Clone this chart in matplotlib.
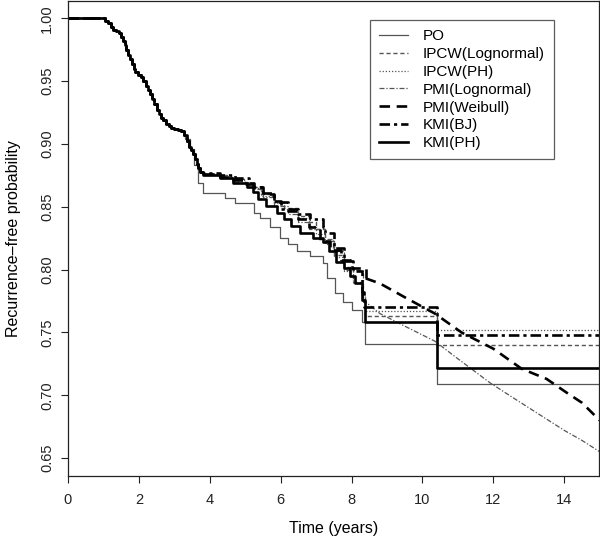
import matplotlib
matplotlib.use("Agg")
import matplotlib.pyplot as plt

plt.rcParams['font.family'] = ['Liberation Sans', 'DejaVu Sans']

# shared early part of all the curves (years, survival)
early_t = [0, 1.0, 1.05, 1.12, 1.2, 1.28, 1.36, 1.44, 1.5, 1.55, 1.6, 1.65, 1.7, 1.75,
           1.8, 1.85, 1.9, 1.97, 2.05, 2.12, 2.19, 2.25, 2.31, 2.37, 2.43, 2.5, 2.56,
           2.62, 2.68, 2.76, 2.84, 2.92, 3.0, 3.1, 3.2, 3.27]
early_s = [1.0, 1.0, 0.998, 0.996, 0.993, 0.991, 0.990, 0.988, 0.985, 0.982, 0.979,
           0.975, 0.971, 0.968, 0.964, 0.960, 0.957, 0.955, 0.953, 0.950, 0.946, 0.943,
           0.940, 0.936, 0.932, 0.927, 0.924, 0.921, 0.919, 0.916, 0.914, 0.913, 0.912,
           0.911, 0.910, 0.907]

# the bend before the 4-5 year plateau, same for the imputation / weighting curves
bend_t = [3.36, 3.42, 3.48, 3.53, 3.58, 3.63, 3.68, 3.72]
bend_s = [0.902, 0.898, 0.895, 0.892, 0.888, 0.884, 0.881, 0.878]

po_t = [3.3, 3.45, 3.55, 3.67, 3.81, 4.43, 4.7, 5.25, 5.41, 5.7, 5.98, 6.2, 6.45,
        6.82, 7.19, 7.3, 7.53, 7.76, 8.0, 8.29, 8.38, 10.42, 15]
po_s = [0.904, 0.896, 0.883, 0.869, 0.861, 0.857, 0.853, 0.845, 0.841, 0.834, 0.825,
        0.820, 0.815, 0.811, 0.805, 0.793, 0.781, 0.774, 0.768, 0.758, 0.741, 0.709, 0.709]

ipcw_ln_t = [3.8, 4.2, 4.6, 5.0, 5.22, 5.45, 5.8, 6.1, 6.5, 6.8, 7.0, 7.25, 7.5, 7.8,
             8.05, 8.3, 8.38, 10.42, 15]
ipcw_ln_s = [0.876, 0.875, 0.872, 0.869, 0.866, 0.860, 0.854, 0.849, 0.843, 0.838,
             0.832, 0.823, 0.812, 0.802, 0.790, 0.777, 0.763, 0.740, 0.740]

ipcw_ph_t = [3.8, 4.25, 4.65, 5.0, 5.22, 5.45, 5.8, 6.1, 6.5, 6.8, 7.0, 7.25, 7.5, 7.8,
             8.05, 8.3, 8.38, 10.42, 15]
ipcw_ph_s = [0.876, 0.874, 0.871, 0.868, 0.865, 0.859, 0.853, 0.848, 0.841, 0.835,
             0.828, 0.820, 0.810, 0.799, 0.789, 0.779, 0.767, 0.752, 0.752]

pmi_ln_t = [3.8, 4.3, 4.7, 5.1, 5.22, 5.5, 5.8, 6.2, 6.5, 6.8, 7.1, 7.47, 7.8, 8.32]
pmi_ln_s = [0.875, 0.873, 0.870, 0.866, 0.864, 0.858, 0.851, 0.844, 0.838, 0.832,
            0.824, 0.815, 0.800, 0.776]
pmi_ln_tail_t = [8.32, 8.8, 9.5, 10.35, 11.0, 11.9, 12.5, 13.5, 14.0, 14.5, 15]
pmi_ln_tail_s = [0.776, 0.765, 0.755, 0.743, 0.729, 0.710, 0.699, 0.681, 0.672, 0.664, 0.655]

pmi_wb_t = [3.8, 4.3, 4.6, 5.0, 5.22, 5.5, 5.8, 6.2, 6.5, 6.8, 7.1, 7.4, 7.7, 8.0, 8.4]
pmi_wb_s = [0.876, 0.874, 0.871, 0.868, 0.866, 0.860, 0.854, 0.847, 0.840, 0.834,
            0.823, 0.816, 0.808, 0.801, 0.793]
pmi_wb_tail_t = [8.4, 8.8, 9.5, 10.35, 11.1, 12.0, 12.8, 13.5, 14.07, 14.5, 15]
pmi_wb_tail_s = [0.793, 0.789, 0.778, 0.765, 0.750, 0.737, 0.721, 0.713, 0.702, 0.694, 0.680]

kmi_bj_t = [3.8, 4.3, 4.7, 5.1, 5.25, 5.5, 5.8, 6.0, 6.5, 6.82, 7.19, 7.25, 7.5, 7.8,
            8.04, 8.3, 8.35, 10.42, 15]
kmi_bj_s = [0.877, 0.875, 0.873, 0.869, 0.866, 0.861, 0.855, 0.848, 0.844, 0.840,
            0.834, 0.829, 0.817, 0.807, 0.799, 0.782, 0.770, 0.748, 0.748]

kmi_ph_t = [3.8, 4.3, 4.65, 5.05, 5.22, 5.35, 5.6, 5.9, 6.1, 6.3, 6.55, 6.9, 7.2, 7.35,
            7.55, 7.8, 7.95, 8.1, 8.3, 8.38, 10.42, 15]
kmi_ph_s = [0.875, 0.873, 0.869, 0.866, 0.862, 0.856, 0.851, 0.845, 0.840, 0.835,
            0.829, 0.825, 0.822, 0.815, 0.806, 0.801, 0.795, 0.789, 0.776, 0.758,
            0.722, 0.722]

x_ticks = [0, 2, 4, 6, 8, 10, 12, 14]
y_ticks = [0.65, 0.70, 0.75, 0.80, 0.85, 0.90, 0.95, 1.00]

grey = '#555555'

fig = plt.figure(figsize=(6, 5.36), dpi=100)
ax = fig.add_axes([0.1133, 0.112, 0.885, 0.886])

ax.step(early_t + po_t, early_s + po_s, where='post', color=grey, lw=0.9, label='PO')
ax.step(early_t + bend_t + ipcw_ln_t, early_s + bend_s + ipcw_ln_s, where='post',
        color=grey, lw=1.0, dashes=(3, 2), label='IPCW(Lognormal)')
ax.step(early_t + bend_t + ipcw_ph_t, early_s + bend_s + ipcw_ph_s, where='post',
        color=grey, lw=0.9, dashes=(1, 1.5), label='IPCW(PH)')
ax.step(early_t + bend_t + pmi_ln_t, early_s + bend_s + pmi_ln_s, where='post',
        color=grey, lw=0.9, dashes=(4, 1.5, 1, 1.5), label='PMI(Lognormal)')
ax.plot(pmi_ln_tail_t, pmi_ln_tail_s, color=grey, lw=0.9, dashes=(4, 1.5, 1, 1.5))
ax.step(early_t + bend_t + pmi_wb_t, early_s + bend_s + pmi_wb_s, where='post',
        color='black', lw=1.9, dashes=(4, 2.5), label='PMI(Weibull)')
ax.plot(pmi_wb_tail_t, pmi_wb_tail_s, color='black', lw=1.9, dashes=(4, 2.5))
ax.step(early_t + bend_t + kmi_bj_t, early_s + bend_s + kmi_bj_s, where='post',
        color='black', lw=1.9, dashes=(4, 1.5, 1.2, 1.5), label='KMI(BJ)')
ax.step(early_t + bend_t + kmi_ph_t, early_s + bend_s + kmi_ph_s, where='post',
        color='black', lw=1.9, label='KMI(PH)')

ax.set_xlim(0, 14.98)
ax.set_ylim(0.6357, 1.0138)
ax.set_xticks(x_ticks)
ax.set_yticks(y_ticks)
ax.set_yticklabels(['%.2f' % v for v in y_ticks], rotation=90, va='center')
ax.tick_params(direction='out', length=5, width=0.8, labelsize=10.5, colors='#222222')
ax.tick_params(axis='x', pad=7)
ax.tick_params(axis='y', pad=5)
for sp in ax.spines.values():
    sp.set_linewidth(0.9)
    sp.set_color('#222222')

ax.set_xlabel('Time (years)', fontsize=11.5, labelpad=10)
ax.set_ylabel('Recurrence\u2013free probability', fontsize=11.5, labelpad=14)

leg = ax.legend(loc='upper right', bbox_to_anchor=(0.915, 0.96), borderaxespad=0,
                fontsize=11, frameon=True, fancybox=False, handlelength=1.9,
                labelspacing=0.25, borderpad=0.6, handletextpad=0.95)
leg.get_frame().set_edgecolor('#333333')
leg.get_frame().set_linewidth(0.9)

fig.savefig('out.png', dpi=100)
